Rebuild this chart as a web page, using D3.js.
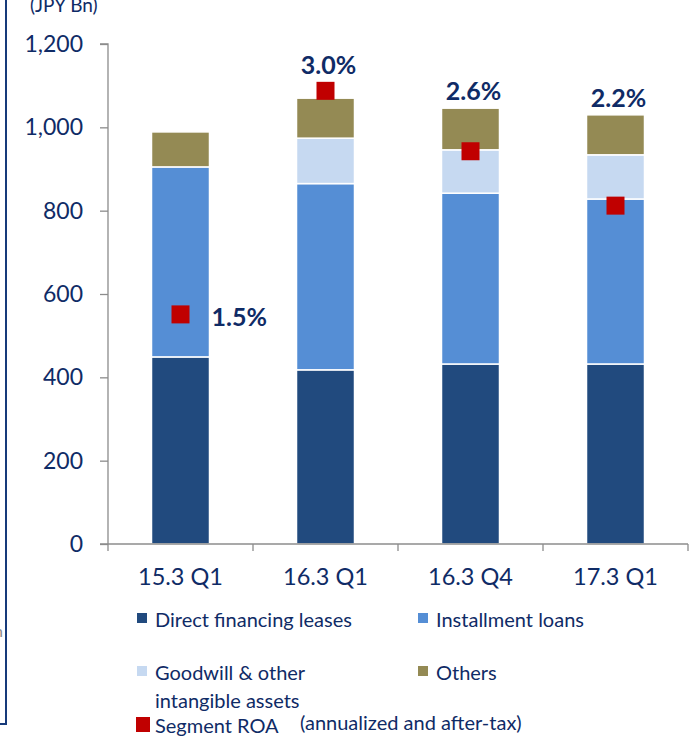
<!DOCTYPE html>
<html>
<head>
<meta charset="utf-8">
<script src="https://cdn.jsdelivr.net/npm/d3@7"></script>
<style>
  body { margin: 0; background: #fff; }
  svg { display: block; font-family: Lato, "Open Sans", sans-serif; }
</style>
</head>
<body>
<div id="root"></div>
<script>
// categories and series (JPY Bn)
var periods = ["15.3 Q1", "16.3 Q1", "16.3 Q4", "17.3 Q1"];
var directLeases = [449, 418, 432, 432];
var installmentLoans = [456, 447, 410, 396];
var goodwill = [0, 109, 104, 106];
var others = [84, 96, 100, 96];
var roaValues = [1.52, 3.0, 2.6, 2.24];
var roaLabels = ["1.5%", "3.0%", "2.6%", "2.2%"];
var yTicks = [0, 200, 400, 600, 800, 1000, 1200];

var seriesNames = ["Direct financing leases", "Installment loans", "Goodwill & other|intangible assets", "Others"];
var seriesColors = ["#214a7e", "#558ed5", "#c6d9f1", "#948a54"];
var textColor = "#0f2b66";

var W = 693, H = 742;
var svg = d3.select("#root").append("svg").attr("width", W).attr("height", H);

// left frame fragment
svg.append("path").attr("d", "M6,0 V724 H0").attr("fill", "none")
  .attr("stroke", "#163a7a").attr("stroke-width", 2);
svg.append("text").attr("x", -6).attr("y", 637).attr("fill", "#888")
  .style("font-size", "16px").text("n");

var x = d3.scaleBand().domain(periods).range([108, 688]).paddingInner(0.6).paddingOuter(0.3);
var y = d3.scaleLinear().domain([0, 1200]).range([544, 44]);
var yRoa = d3.scaleLinear().domain([0, 3.31]).range([544, 44]);

// stacked data
var table = periods.map(function(p, i) {
  return { period: p, s0: directLeases[i], s1: installmentLoans[i], s2: goodwill[i], s3: others[i] };
});
var stack = d3.stack().keys(["s0", "s1", "s2", "s3"]);
var layers = stack(table);

var gBars = svg.append("g");
gBars.selectAll("g").data(layers).enter().append("g")
  .attr("fill", function(d, i) { return seriesColors[i]; })
  .selectAll("rect").data(function(d) { return d; }).enter().append("rect")
  .filter(function(d) { return d[1] - d[0] > 0; })
  .attr("x", function(d) { return x(d.data.period); })
  .attr("width", x.bandwidth())
  .attr("y", function(d) { return y(d[1]); })
  .attr("height", function(d) { return y(d[0]) - y(d[1]); })
  .attr("stroke", "#fff").attr("stroke-width", 1.5);

// y axis
var yAxis = svg.append("g").attr("transform", "translate(108,0)")
  .call(d3.axisLeft(y).tickValues(yTicks).tickSize(8).tickPadding(17).tickFormat(d3.format(",")));
yAxis.select(".domain").attr("stroke", "#8c8c8c").attr("stroke-width", 1.3).attr("d", "M-8,44H0V544");
yAxis.selectAll(".tick line").attr("stroke", "#8c8c8c").attr("stroke-width", 1.3);
yAxis.selectAll(".tick text").attr("fill", textColor).style("font-size", "23px")
  .style("font-family", "Lato, sans-serif");

// x axis
var xAxis = svg.append("g").attr("transform", "translate(0,544)")
  .call(d3.axisBottom(x).tickSize(0).tickPadding(24));
xAxis.select(".domain").remove();
xAxis.selectAll(".tick text").attr("fill", textColor).style("font-size", "23.5px")
  .style("font-family", "Lato, sans-serif");
var gap = x.step() - x.bandwidth();
var bounds = periods.map(function(p) { return x(p) - gap / 2; });
bounds.push(x(periods[periods.length - 1]) + x.bandwidth() + gap / 2);
xAxis.append("line").attr("x1", 100).attr("x2", bounds[bounds.length - 1]).attr("y1", 0).attr("y2", 0)
  .attr("stroke", "#8c8c8c").attr("stroke-width", 1.3);
xAxis.selectAll(".bound").data(bounds).enter().append("line").attr("class", "bound")
  .attr("x1", function(d) { return d; }).attr("x2", function(d) { return d; })
  .attr("y1", 0).attr("y2", 7).attr("stroke", "#8c8c8c").attr("stroke-width", 1.3);

// unit label
svg.append("text").attr("x", 30).attr("y", 12).attr("fill", textColor)
  .style("font-size", "19px").text("(JPY Bn)");

// ROA markers
var mk = 18;
svg.append("g").selectAll("rect").data(roaValues).enter().append("rect")
  .attr("x", function(d, i) { return x(periods[i]) + x.bandwidth() / 2 - mk / 2; })
  .attr("y", function(d) { return yRoa(d) - mk / 2; })
  .attr("width", mk).attr("height", mk).attr("fill", "#c00000");

// ROA labels
svg.append("g").selectAll("text").data(roaValues).enter().append("text")
  .attr("fill", textColor).style("font-size", "25px").style("font-weight", "bold")
  .attr("text-anchor", function(d, i) { return i === 0 ? "start" : "middle"; })
  .attr("x", function(d, i) {
    var cx = x(periods[i]) + x.bandwidth() / 2;
    return i === 0 ? cx + 31 : cx + 3;
  })
  .attr("y", function(d, i) {
    if (i === 0) return yRoa(d) + 12;
    var total = directLeases[i] + installmentLoans[i] + goodwill[i] + others[i];
    return Math.min(y(total), yRoa(d) - mk / 2) - 8;
  })
  .text(function(d, i) { return roaLabels[i]; });

// legend
var legend = svg.append("g").style("font-size", "20px");
seriesNames.forEach(function(name, i) {
  var col = i % 2, row = Math.floor(i / 2);
  var lx = col === 0 ? 137 : 418;
  var ly = row === 0 ? 627 : 680;
  legend.append("rect").attr("x", lx).attr("y", ly - 14).attr("width", 10).attr("height", 10)
    .attr("fill", seriesColors[i]);
  var t = legend.append("text").attr("x", lx + 18).attr("y", ly).attr("fill", textColor);
  name.split("|").forEach(function(part, k) {
    t.append("tspan").attr("x", lx + 18).attr("dy", k === 0 ? 0 : 28).text(part);
  });
});
legend.append("rect").attr("x", 136).attr("y", 717).attr("width", 14).attr("height", 15).attr("fill", "#c00000");
legend.append("text").attr("x", 155).attr("y", 733).attr("fill", textColor).text("Segment ROA");
legend.append("text").attr("x", 300).attr("y", 730).attr("fill", textColor).text("(annualized and after-tax)");
</script>
</body>
</html>
